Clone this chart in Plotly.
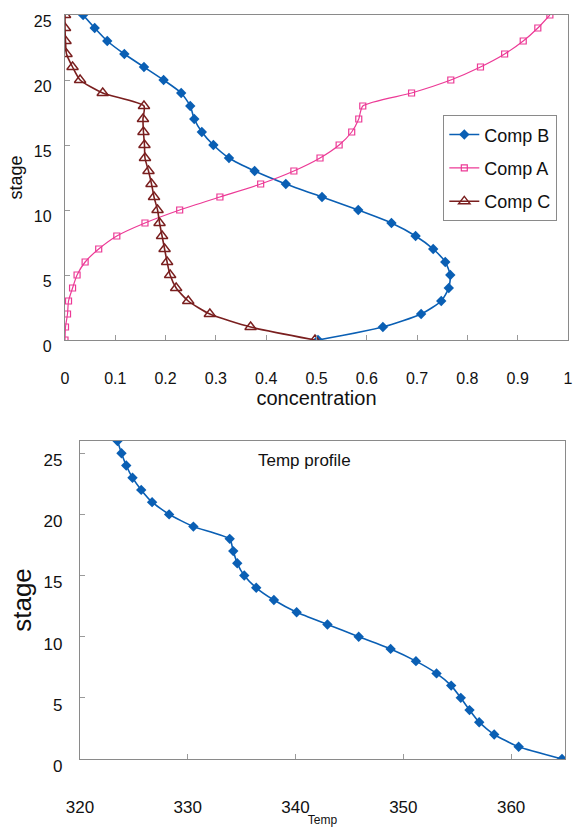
import plotly.graph_objects as go

stages = list(range(26))
comp_b = [0.503, 0.632, 0.708, 0.748, 0.763, 0.766, 0.756, 0.732, 0.697, 0.649,
          0.583, 0.511, 0.439, 0.377, 0.326, 0.295, 0.272, 0.257, 0.249, 0.231,
          0.196, 0.157, 0.118, 0.084, 0.059, 0.036]
comp_a = [0.000, 0.001, 0.005, 0.007, 0.015, 0.024, 0.040, 0.067, 0.103, 0.159,
          0.228, 0.308, 0.389, 0.455, 0.507, 0.545, 0.570, 0.584, 0.592, 0.689,
          0.767, 0.826, 0.874, 0.911, 0.940, 0.964]
comp_c = [0.497, 0.369, 0.288, 0.245, 0.221, 0.209, 0.203, 0.198, 0.193, 0.188,
          0.184, 0.177, 0.172, 0.166, 0.159, 0.158, 0.156, 0.155, 0.157, 0.075,
          0.030, 0.015, 0.003, 0.001, 0.000, 0.000]

temp_stages = list(range(27))
temp = [364.72, 360.70, 358.43, 357.04, 356.14, 355.33, 354.44, 353.08, 351.17, 348.82,
        345.86, 342.96, 340.10, 337.99, 336.35, 335.24, 334.59, 334.22, 333.89, 330.52,
        328.27, 326.69, 325.68, 324.87, 324.29, 323.85, 323.48]

conc_ticks = [0, 0.1, 0.2, 0.3, 0.4, 0.5, 0.6, 0.7, 0.8, 0.9, 1]
stage_ticks = [0, 5, 10, 15, 20, 25]
temp_ticks = [320, 330, 340, 350, 360]

BLUE = "#0A5FB4"
PINK = "#EC3A96"
BROWN = "#7A1F1F"
FONT = "Liberation Sans, Arial, sans-serif"
W, H = 574, 827

fig = go.Figure()
fig.add_trace(go.Scatter(
    x=comp_b, y=stages, name="Comp B", legendgroup="b", mode="lines+markers",
    line=dict(color=BLUE, width=1.6, shape="spline", smoothing=0.6),
    marker=dict(symbol="diamond", size=8, color=BLUE), xaxis="x", yaxis="y"))
fig.add_trace(go.Scatter(
    x=comp_a, y=stages, name="Comp A", legendgroup="a", mode="lines+markers",
    line=dict(color=PINK, width=1.2, shape="spline", smoothing=0.6),
    marker=dict(symbol="square-open", size=6, color=PINK, line=dict(width=1.2)),
    xaxis="x", yaxis="y"))
fig.add_trace(go.Scatter(
    x=comp_c, y=stages, name="Comp C", legendgroup="c", mode="lines+markers",
    line=dict(color=BROWN, width=1.6, shape="spline", smoothing=0.6),
    marker=dict(symbol="triangle-up-open", size=10, color=BROWN, line=dict(width=1.4)),
    xaxis="x", yaxis="y"))
fig.add_trace(go.Scatter(
    x=temp, y=temp_stages, name="Temp", mode="lines+markers", showlegend=False,
    line=dict(color=BLUE, width=1.6, shape="spline", smoothing=0.5),
    marker=dict(symbol="diamond", size=8, color=BLUE), xaxis="x2", yaxis="y2"))

axis_common = dict(showline=True, mirror=True, linecolor="#8a8a8a", linewidth=1.3,
                   ticks="inside", ticklen=5, tickcolor="#9a9a9a", showgrid=False,
                   zeroline=False, automargin=False,
                   tickfont=dict(family=FONT, color="#111"))

fig.update_layout(
    width=W, height=H, margin=dict(l=0, r=0, t=0, b=0, autoexpand=False),
    paper_bgcolor="white", plot_bgcolor="white",
    font=dict(family=FONT, color="#111"),
    xaxis=dict(axis_common, domain=[65 / W, 568 / W], range=[0, 1],
               tickvals=conc_ticks, tickfont=dict(family=FONT, size=16, color="#111"),
               ticklabelstandoff=24,
               title=dict(text="concentration", font=dict(family=FONT, size=20), standoff=2),
               anchor="y"),
    yaxis=dict(axis_common, domain=[1 - 340 / H, 1 - 15 / H], range=[0, 25],
               tickvals=stage_ticks, tickfont=dict(family=FONT, size=16, color="#111"),
               ticklabelstandoff=9, ticklabelshift=6,
               title=dict(text="stage", font=dict(family=FONT, size=18), standoff=6),
               anchor="x"),
    xaxis2=dict(axis_common, domain=[80 / W, 565 / W], range=[320, 365],
                tickvals=temp_ticks, tickfont=dict(family=FONT, size=17, color="#111"),
                ticklabelstandoff=32,
                title=dict(text="Temp", font=dict(family=FONT, size=12), standoff=4),
                anchor="y2"),
    yaxis2=dict(axis_common, domain=[1 - 759 / H, 1 - 441 / H], range=[0, 26],
                tickvals=stage_ticks, tickfont=dict(family=FONT, size=17, color="#111"),
                ticklabelstandoff=13, ticklabelshift=7,
                title=dict(text="stage", font=dict(family=FONT, size=26), standoff=4),
                anchor="x2"),
    legend=dict(x=443 / W, y=1 - 115 / H, xanchor="left", yanchor="top",
                bordercolor="#8a8a8a", borderwidth=1.3, bgcolor="white",
                font=dict(family=FONT, size=18, color="#111"),
                tracegroupgap=7, traceorder="grouped"),
    annotations=[dict(text="Temp profile", xref="x2", yref="y2", x=340.8, y=24.4,
                      showarrow=False, font=dict(family=FONT, size=17, color="#111"))],
)

fig.write_html("out.html")
